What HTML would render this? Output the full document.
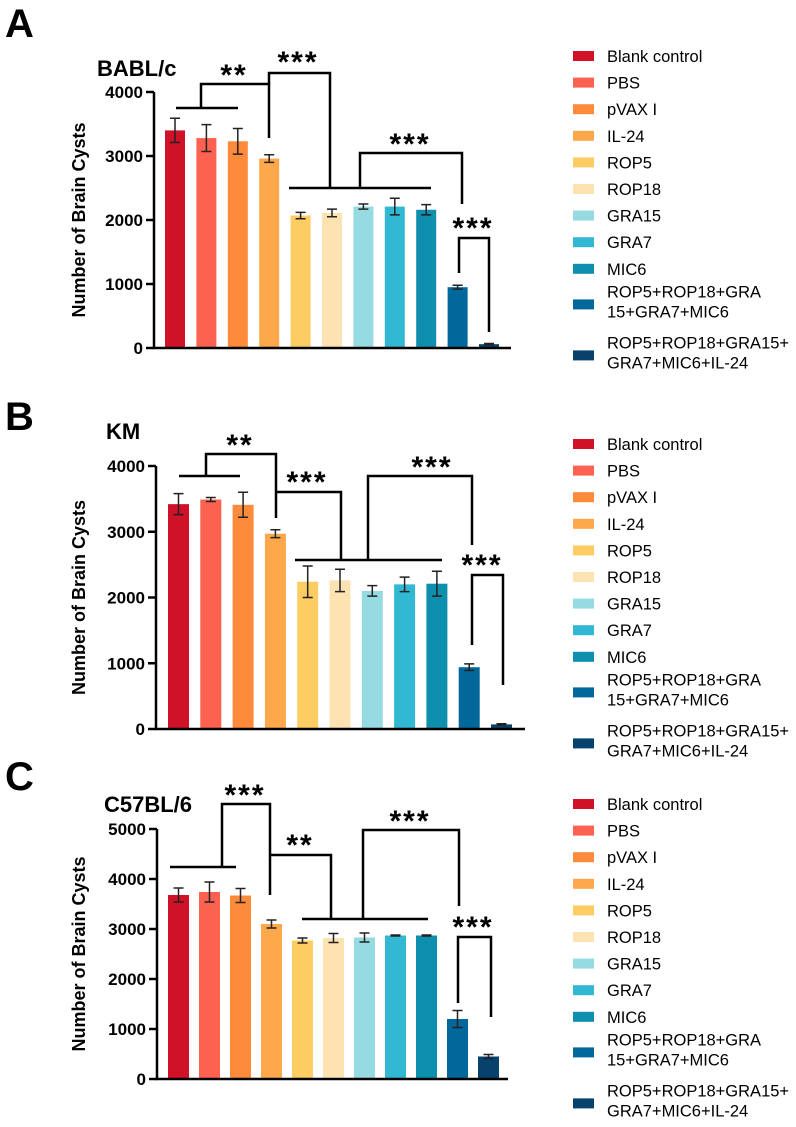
<!DOCTYPE html>
<html><head><meta charset="utf-8"><style>
body{margin:0;background:#fff;width:796px;height:1122px;overflow:hidden}
svg{font-family:"Liberation Sans",Arial,sans-serif}
</style></head><body>
<svg id="fig" width="796" height="1122" viewBox="0 0 796 1122" xmlns="http://www.w3.org/2000/svg"></svg>
<script>
const groups=["Blank control","PBS","pVAX I","IL-24","ROP5","ROP18","GRA15","GRA7","MIC6","ROP5+ROP18+GRA15+GRA7+MIC6","ROP5+ROP18+GRA15+GRA7+MIC6+IL-24"];
const colors=["#d01229","#fd614f","#fe8a3c","#fda84a","#fdcd63","#fee3b2","#95dbe1","#33b8d4","#0e8fae","#02679b","#06426c"];
const meansA=[3400,3280,3230,2960,2070,2110,2210,2210,2160,950,60];
const errA=[190,210,200,60,50,60,40,130,80,30,10];
const meansB=[3420,3490,3410,2970,2240,2260,2100,2200,2210,940,70];
const errB=[160,30,190,60,240,170,80,110,190,50,10];
const meansC=[3680,3740,3670,3100,2770,2820,2830,2870,2870,1200,450];
const errC=[140,200,140,80,50,90,90,10,10,170,40];
const ticksA=[0,1000,2000,3000,4000];
const ticksB=[0,1000,2000,3000,4000];
const ticksC=[0,1000,2000,3000,4000,5000];

const NS="http://www.w3.org/2000/svg";
const svg=document.getElementById('fig');
function mk(tag,attrs,parent,text){const e=document.createElementNS(NS,tag);for(const k in attrs)e.setAttribute(k,attrs[k]);if(text!==undefined)e.textContent=text;(parent||svg).appendChild(e);return e;}

const panels=[
 {id:'a',letter:'A',ly:37,title:'BABL/c',tx:97,ty:76,means:meansA,err:errA,ticks:ticksA,ax:154,y0:348,ymax:4000,ytop:92,bx0:165,step:31.4,bw:20,xend:511,legY:56,
  br:[[[176,108],[238,108]],[[201,108],[201,84],[269,84],[269,138]],[[269,84],[269,73],[330,73],[330,188]],[[289,188],[431,188]],[[360,188],[360,153],[462,153],[462,204]],[[459,273],[459,238],[489,238],[489,332]]],
  st:[['**',234,68],['***',298,55],['***',410,137],['***',473,221]]},
 {id:'b',letter:'B',ly:430,title:'KM',tx:106,ty:439,means:meansB,err:errB,ticks:ticksB,ax:156,y0:729,ymax:4000,ytop:466,bx0:168,step:32.3,bw:21,xend:525,legY:444,
  br:[[[179,476],[240,476]],[[206,476],[206,454],[276,454],[276,518]],[[276,492],[341,492],[341,560]],[[295,560],[442,560]],[[368,560],[368,476],[472,476],[472,545]],[[472,645],[472,575],[503,575],[503,685]]],
  st:[['**',240,438],['***',307,475],['***',432,460],['***',482,558]]},
 {id:'c',letter:'C',ly:790,title:'C57BL/6',tx:104,ty:812,means:meansC,err:errC,ticks:ticksC,ax:157,y0:1079,ymax:5000,ytop:829,bx0:168,step:31,bw:21,xend:508,legY:804,
  br:[[[170,867],[236,867]],[[222,867],[222,804],[270,804],[270,895]],[[270,855],[331,855],[331,919]],[[302,919],[428,919]],[[363,919],[363,830],[459,830],[459,906]],[[458,1003],[458,937],[491,937],[491,1017]]],
  st:[['***',245,788],['**',300,838],['***',410,814],['***',473,920]]}
];

panels.forEach(p=>{
 const g=mk('g',{},svg);
 
 
 const L=mk('text',{x:5,y:p.ly,'font-size':40,'font-weight':'bold'},g,p.letter);
 
 
 const T=mk('text',{x:p.tx,y:p.ty,'font-size':22,'font-weight':'bold'},g,p.title);
 
 
 const ys=v=>p.y0-(v/p.ymax)*(p.y0-p.ytop);
 const xs=i=>p.bx0+i*p.step;
 p.means.forEach((m,i)=>{
  const r=mk('rect',{x:xs(i),y:ys(m),width:p.bw,height:p.y0-ys(m),fill:colors[i]},g);
  
  
  const cx=xs(i)+p.bw/2,e=p.err[i];
  const eb=mk('path',{d:`M${cx} ${ys(m+e)}V${ys(m-e)}M${cx-5} ${ys(m+e)}H${cx+5}M${cx-5} ${ys(m-e)}H${cx+5}`,stroke:'#222','stroke-width':1.5,fill:'none'},g);
  
  
 });
 const ax=mk('path',{d:`M${p.ax} ${p.ytop}V${p.y0}H${p.xend}`,stroke:'#000','stroke-width':2.5,fill:'none'},g);
 
 
 p.ticks.forEach(t=>{
  mk('line',{x1:p.ax-8,x2:p.ax,y1:ys(t),y2:ys(t),stroke:'#000','stroke-width':2.5},g);
  const tl=mk('text',{x:p.ax-11,y:ys(t)+6,'font-size':17,'font-weight':'bold','text-anchor':'end'},g,String(t));
  
  
 });
 const yc=(p.y0+p.ytop)/2;
 const yt=mk('text',{x:0,y:0,'font-size':18,'font-weight':'bold','text-anchor':'middle',transform:`translate(85 ${yc}) rotate(-90)`},g,'Number of Brain Cysts');
 
 
 p.br.forEach(pts=>{
  const b=mk('polyline',{points:pts.map(q=>q.join(',')).join(' '),stroke:'#000','stroke-width':2.5,fill:'none'},g);
  
  
 });
 p.st.forEach(s=>{
  const t=mk('text',{x:s[1],y:s[2]+17,'font-size':30,'font-weight':'bold','text-anchor':'middle','letter-spacing':'2'},g,s[0]);
  
  
 });
 const lg=mk('g',{},g);
 
 
 let y=p.legY;
 groups.forEach((name,i)=>{
  const e=mk('g',{},lg);
  
  
  if(i<9){
   mk('rect',{x:573,y:y-5,width:21,height:10,fill:colors[i]},e);
   mk('text',{x:607,y:y+6,'font-size':16.5},e,name);
   y+=26.6;
  }else{
   const cy=i===9?y+9:y+13;
   mk('rect',{x:573,y:cy-5,width:21,height:10,fill:colors[i]},e);
   const l1=i===9?'ROP5+ROP18+GRA':'ROP5+ROP18+GRA15+';
   const l2=i===9?'15+GRA7+MIC6':'GRA7+MIC6+IL-24';
   mk('text',{x:607,y:cy-7,'font-size':16.5},e,l1);
   mk('text',{x:607,y:cy+13,'font-size':16.5},e,l2);
   y+=47;
  }
 });
});
</script>
</body></html>
